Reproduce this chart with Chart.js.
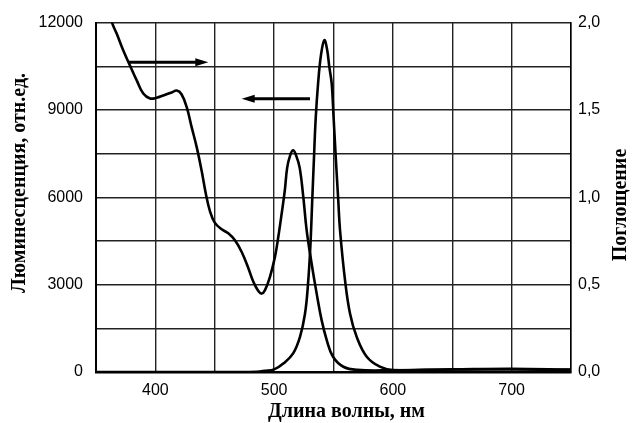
<!DOCTYPE html>
<html><head><meta charset="utf-8">
<style>html,body{margin:0;padding:0;background:#fff}#wrap{width:632px;height:423px;position:relative}</style>
<script src="https://cdn.jsdelivr.net/npm/chart.js@4"></script>
</head><body><div id="wrap"><canvas id="c"></canvas></div>
<script>
// Absorption (right axis)
const absWl  = [355, 363.5, 367.4, 373, 378.6, 384.3, 389.8, 395.5, 401, 406.7, 413.7, 418, 422, 426.4, 430.6, 434.8, 439, 442.5, 446, 450, 455.8, 461.4, 467, 472.7, 478.3, 482.5, 486.7, 489.5, 492.3, 496.5, 500.7, 503.5, 506.4, 509, 511, 513.5, 516, 518.5, 521.5, 524.6, 527.4, 531.6, 535.8, 540, 544.3, 549.6, 558.3, 570, 600, 650, 700, 750];
const absVal = [2.2, 2.0, 1.937, 1.84, 1.754, 1.669, 1.594, 1.566, 1.57, 1.583, 1.60, 1.611, 1.59, 1.516, 1.40, 1.287, 1.15, 1.02, 0.92, 0.855, 0.817, 0.794, 0.754, 0.687, 0.594, 0.516, 0.463, 0.449, 0.469, 0.545, 0.659, 0.773, 0.909, 1.04, 1.17, 1.24, 1.269, 1.24, 1.17, 1.0, 0.811, 0.62, 0.45, 0.297, 0.183, 0.087, 0.03, 0.012, 0.01, 0.014, 0.015, 0.012];
// Luminescence (left axis)
const lumWl  = [350, 470, 485, 492, 500, 508, 516, 521.8, 526, 528.5, 530.5, 532, 533.5, 535, 537, 539.5, 542.3, 544.5, 546.5, 548.5, 550, 552, 554, 555.5, 559.7, 563.9, 569.5, 578, 589, 600, 650, 700, 750];
const lumVal = [0, 0, 10, 40, 90, 300, 640, 1210, 2000, 3000, 4300, 5800, 7300, 8700, 9900, 10900, 11400, 11100, 10470, 9900, 8800, 7300, 5900, 4868, 3154, 2012, 1210, 525, 182, 70, 90, 110, 80];
const xTickLabels   = [400, 500, 600, 700];
const lumTickLabels = [0, 3000, 6000, 9000, 12000];
const absTickLabels = [0, 0.5, 1.0, 1.5, 2.0];
// arrows: wavelengths from->to at a left-axis level
const arrowFrom = [377, 530.2];
const arrowTo   = [444.6, 472.7];
const arrowLevel = [10640, 9384];
const xTitle = 'Длина волны, нм';
const yLeftTitle = 'Люминесценция, отн.ед.';
const yRightTitle = 'Поглощение';

const absData = absWl.map((w,i)=>({x:w,y:absVal[i]}));
const lumData = lumWl.map((w,i)=>({x:w,y:lumVal[i]}));

const deco = {
  id:'deco',
  afterDraw(chart){
    const ctx = chart.ctx, xs = chart.scales.x, yl = chart.scales.yL, ca = chart.chartArea;
    ctx.save();
    ctx.strokeStyle = '#000'; ctx.fillStyle = '#000'; ctx.lineWidth = 3;
    for (let i=0;i<arrowFrom.length;i++){
      const x1 = xs.getPixelForValue(arrowFrom[i]), x2 = xs.getPixelForValue(arrowTo[i]);
      const y = yl.getPixelForValue(arrowLevel[i]);
      const dir = Math.sign(x2-x1);
      ctx.beginPath(); ctx.moveTo(x1,y); ctx.lineTo(x2-dir*10,y); ctx.stroke();
      ctx.beginPath(); ctx.moveTo(x2,y); ctx.lineTo(x2-dir*13,y-4); ctx.lineTo(x2-dir*13,y+4); ctx.closePath(); ctx.fill();
    }
    ctx.font = 'bold 20px "Liberation Serif", "Times New Roman", serif';
    ctx.textAlign='center'; ctx.textBaseline='middle';
    ctx.fillText(xTitle, (ca.left+ca.right)/2 + 13, 412);
    ctx.save(); ctx.translate(20,183); ctx.rotate(-Math.PI/2); ctx.fillText(yLeftTitle,0,0); ctx.restore();
    ctx.save(); ctx.translate(621,205); ctx.rotate(-Math.PI/2); ctx.fillText(yRightTitle,0,0); ctx.restore();
    ctx.restore();
  }
};

const tickFont = {family:'"Liberation Sans", Arial, sans-serif', size:16};
new Chart(document.getElementById('c'), {
  type:'line',
  data:{datasets:[
    {label:'abs', data:absData, yAxisID:'yR', borderColor:'#000', borderWidth:2.6, pointRadius:0, tension:0.4, fill:false},
    {label:'lum', data:lumData, yAxisID:'yL', borderColor:'#000', borderWidth:2.6, pointRadius:0, tension:0.4, fill:false}
  ]},
  options:{
    responsive:true, maintainAspectRatio:false, animation:false,
    layout:{padding:{top:22,left:0,right:0,bottom:0}},
    plugins:{legend:{display:false}, tooltip:{enabled:false}},
    scales:{
      x:{type:'linear', min:350, max:750,
        afterFit(s){s.height=51;},
        ticks:{stepSize:50, padding:9, color:'#000', font:tickFont, maxRotation:0, autoSkip:false,
          callback:v=> xTickLabels.includes(v)? String(v):''},
        grid:{color:'#222', lineWidth:1.4, drawTicks:false},
        border:{color:'#000', width:2.5}},
      yL:{type:'linear', position:'left', min:0, max:12000,
        afterFit(s){s.width=96;},
        ticks:{stepSize:1500, padding:13, color:'#000', font:tickFont, autoSkip:false,
          callback:v=> lumTickLabels.includes(v)? String(v):''},
        grid:{color:'#222', lineWidth:1.4, drawTicks:false},
        border:{color:'#000', width:2}},
      yR:{type:'linear', position:'right', min:0, max:2,
        afterFit(s){s.width=61;},
        ticks:{stepSize:0.25, padding:7, color:'#000', font:tickFont, autoSkip:false,
          callback:v=> absTickLabels.some(t=>Math.abs(t-v)<1e-9)? v.toFixed(1).replace('.',','):''},
        grid:{display:false, drawTicks:false},
        border:{color:'#000', width:1.5}}
    }
  },
  plugins:[deco]
});
</script></body></html>
